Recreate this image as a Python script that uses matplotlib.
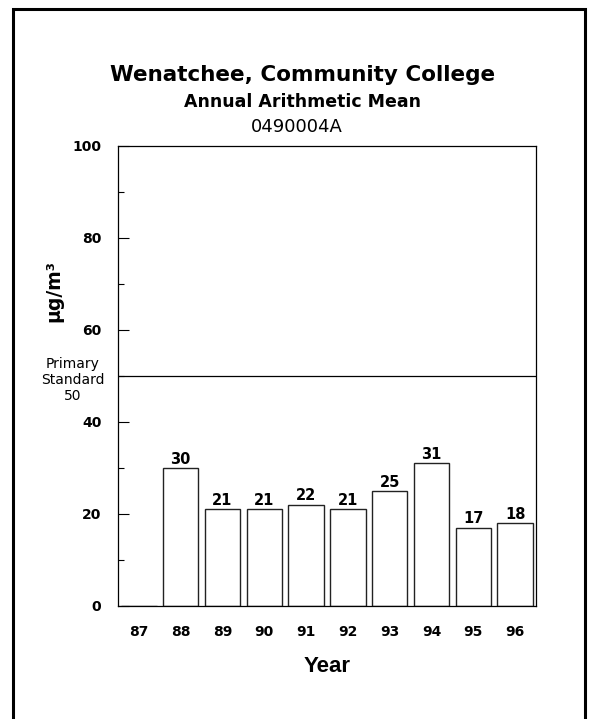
import matplotlib
matplotlib.use("Agg")
import matplotlib.pyplot as plt
from matplotlib.patches import Rectangle
import numpy as np

plt.rcParams['font.family'] = ['DejaVu Sans']
ARIAL = ['Liberation Sans', 'DejaVu Sans']

years = ['87', '88', '89', '90', '91', '92', '93', '94', '95', '96']
means = [0, 30, 21, 21, 22, 21, 25, 31, 17, 18]
standard = 50

title = 'Wenatchee, Community College'
subtitle = 'Annual Arithmetic Mean'
site = '0490004A'

W, H = 589, 719
fig = plt.figure(figsize=(W / 100, H / 100), dpi=100)
ax = fig.add_axes([118 / W, 1 - 605.7 / H, (536 - 118) / W, (605.7 - 145.7) / H])

x = np.arange(len(years))
ax.bar(x, means, width=0.85, color='white', edgecolor='#222222', linewidth=1.0)
for xi, v in zip(x, means):
	if v > 0:
		ax.text(xi, v + 0.9, str(v), ha='center', va='baseline', fontsize=10.5,
			fontweight='bold')

ax.axhline(standard, color='black', linewidth=0.9)

ax.set_xlim(-0.5, len(years) - 0.5)
ax.set_ylim(0, 100)
ax.set_yticks(range(0, 101, 20))
ax.set_yticks(range(10, 100, 20), minor=True)
ax.tick_params(axis='y', which='major', direction='in', length=8, width=0.8, pad=12, labelsize=10)
ax.tick_params(axis='y', which='minor', direction='in', length=4.5, width=0.8)
ax.set_xticks(x)
ax.set_xticklabels(years)
ax.tick_params(axis='x', length=0, pad=14, labelsize=10)
for lab in ax.get_xticklabels() + ax.get_yticklabels():
	lab.set_fontweight('bold')
for s in ax.spines.values():
	s.set_linewidth(0.9)

ax.set_xlabel('Year', fontsize=16, fontweight='bold', labelpad=12, family=ARIAL)

fig.text(54 / W, 1 - 291 / H, 'µg/m³', rotation=90, ha='center', va='center',
	fontsize=13.5, fontweight='bold')
fig.text(73 / W, 1 - 380 / H, 'Primary\nStandard\n50', ha='center', va='center',
	fontsize=10, linespacing=1.17)

fig.text(303 / W, 1 - 80.7 / H, title, ha='center', va='baseline', fontsize=15.5, fontweight='bold')
fig.text(303 / W, 1 - 106.7 / H, subtitle, ha='center', va='baseline', fontsize=12.5, fontweight='bold')
fig.text(297 / W, 1 - 131.7 / H, site, ha='center', va='baseline', fontsize=13)

# outer frame, bottom edge runs off the page
fig.patches.append(Rectangle((13 / W, -0.05), (585 - 13) / W, 1.05 - 9 / H,
	transform=fig.transFigure, fill=False, edgecolor='black', linewidth=2.2))

fig.savefig('out.png', dpi=100)
